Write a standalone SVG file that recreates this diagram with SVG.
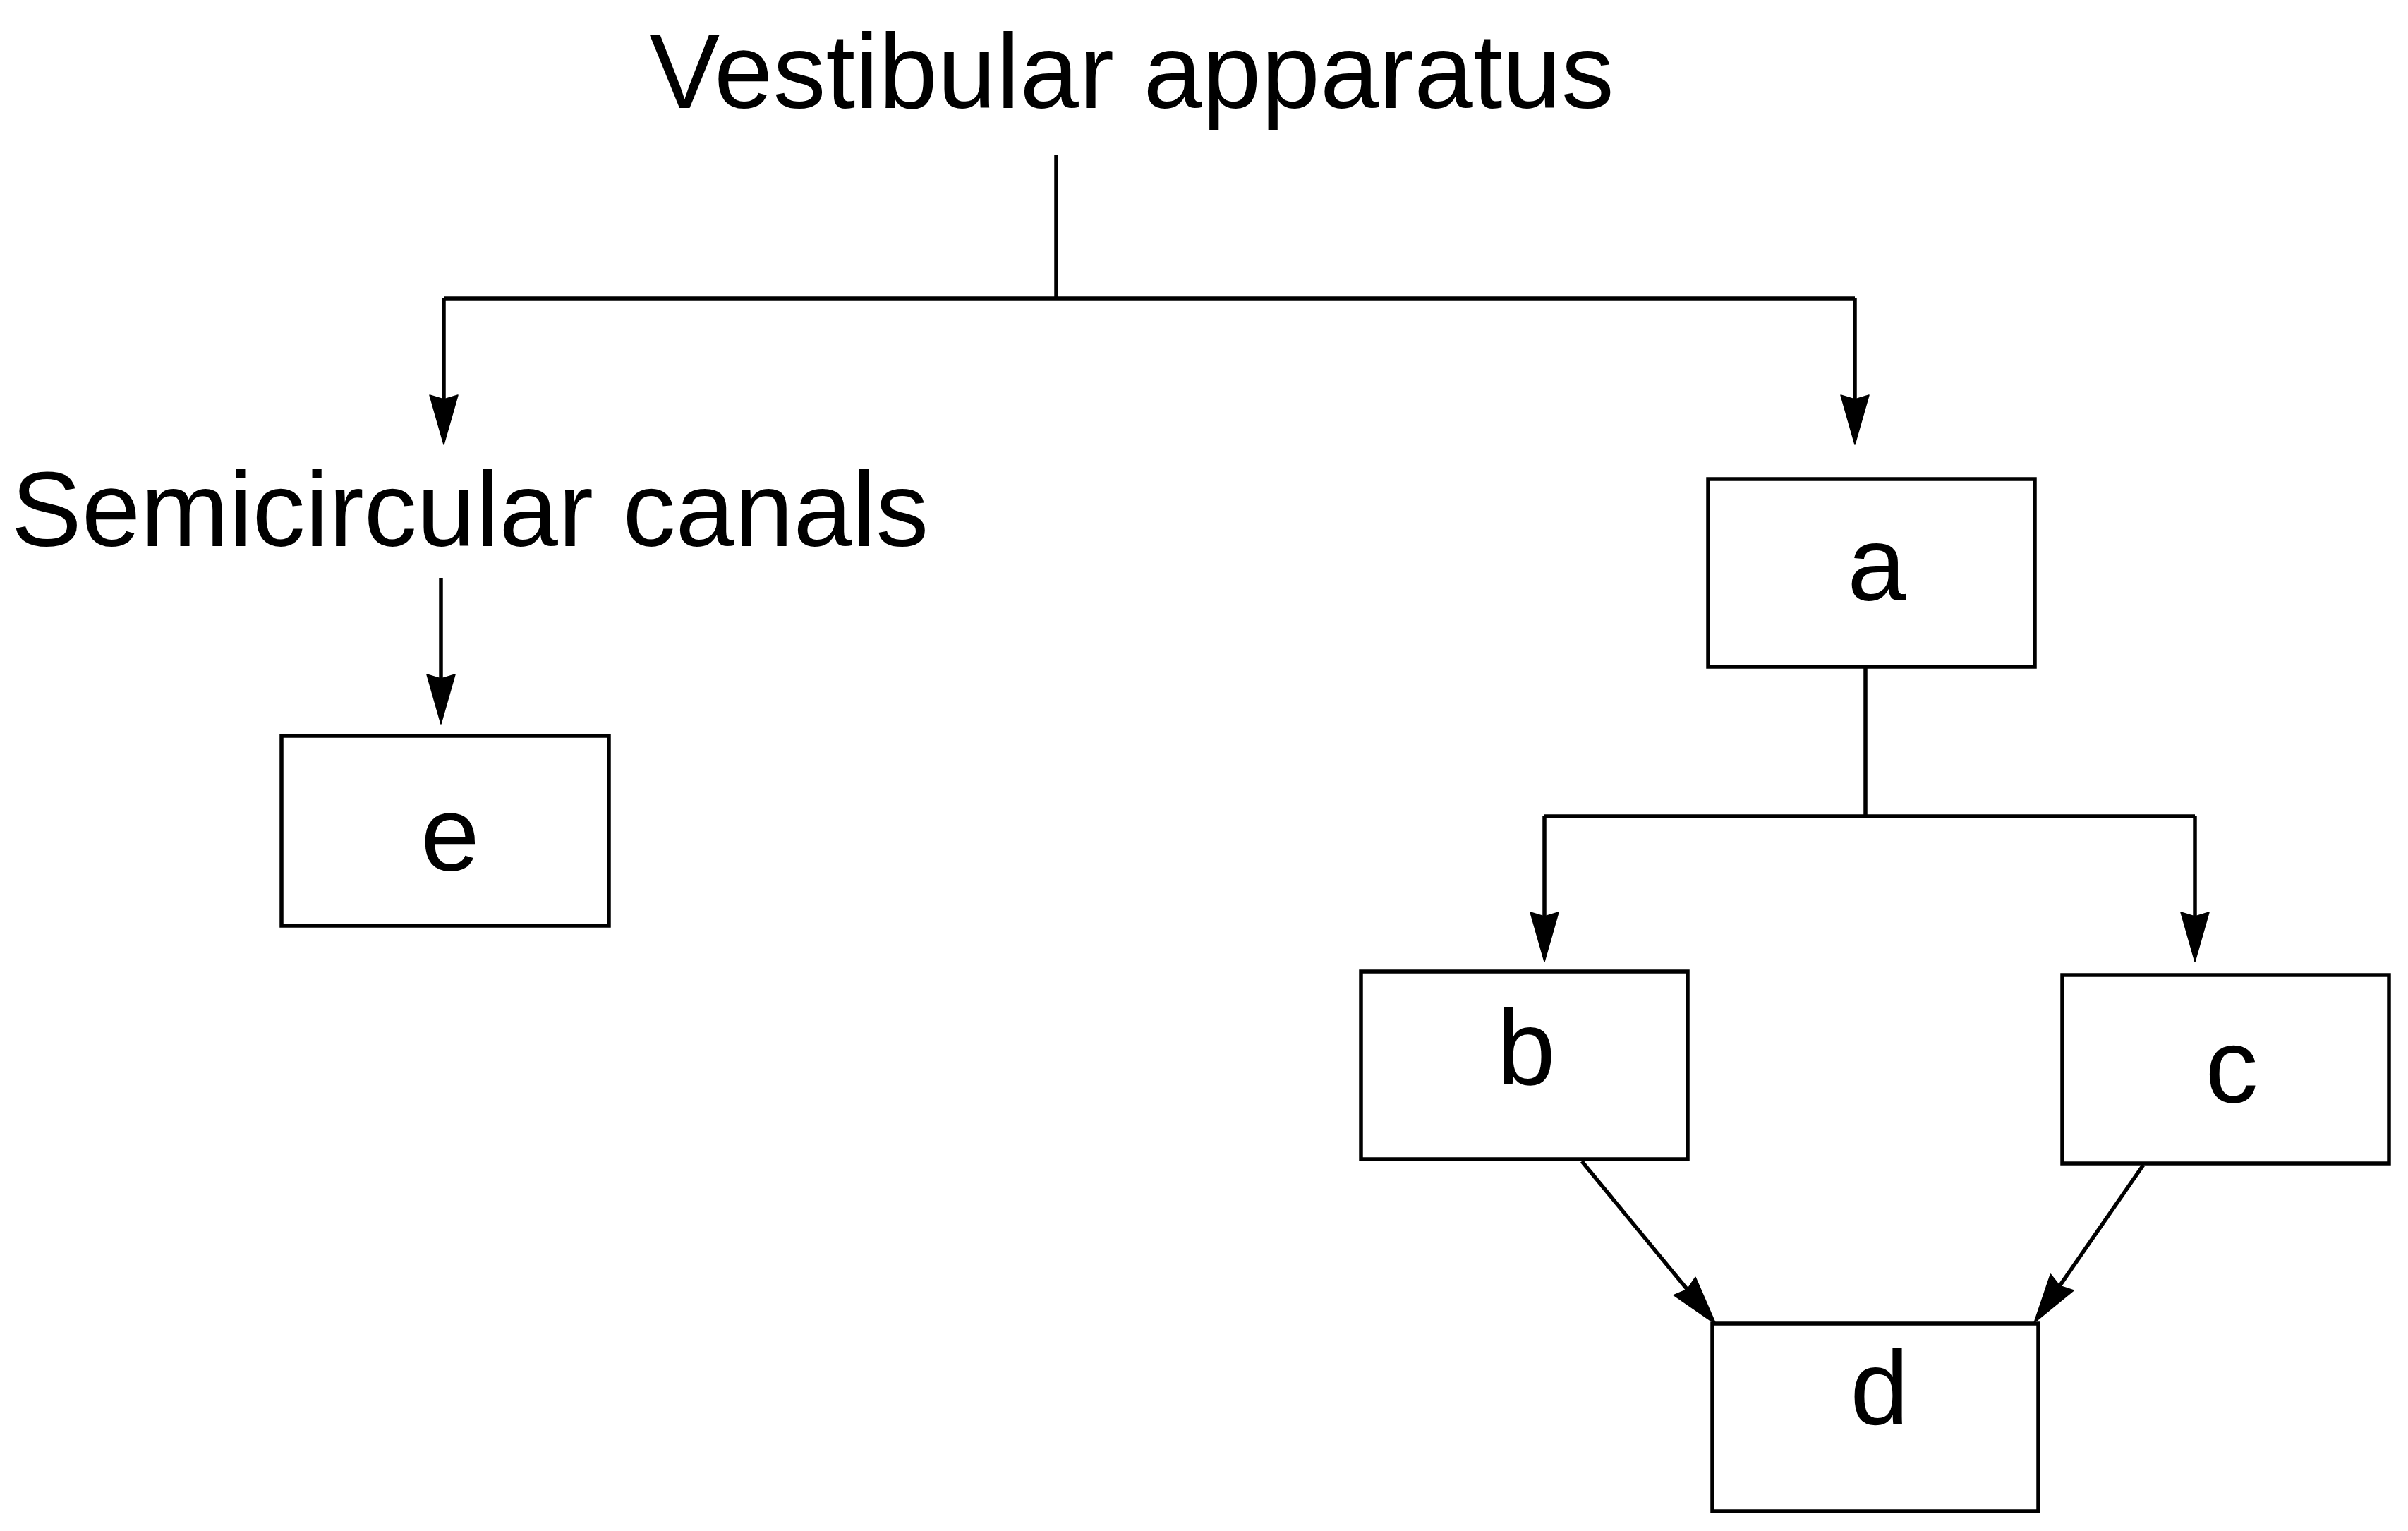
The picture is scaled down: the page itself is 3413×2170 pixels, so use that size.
<svg xmlns="http://www.w3.org/2000/svg" width="3413" height="2170" viewBox="0 0 3413 2170">
<style>
  .lbl { font-family: "Liberation Sans", Arial, sans-serif; font-size: 150px; fill: #000; text-anchor: middle; }
  .box { fill: #fff; stroke: #000; stroke-width: 5.5; }
  .con { fill: none; stroke: #000; stroke-width: 5.5; }
</style>
<defs>
  <marker id="arr" markerUnits="userSpaceOnUse" markerWidth="72" markerHeight="44" viewBox="0 -22 72 44" refX="6" refY="0" orient="auto" overflow="visible">
    <path d="M70,0 L0,-20 L6,0 L0,20 Z" fill="#000" stroke="#000" stroke-width="1.5" stroke-linejoin="round"/>
  </marker>
</defs>
<rect width="3413" height="2170" fill="#fff"/>

<g id="connectors">
  <path class="con" d="M1497,219 V423"/>
  <path class="con" d="M629,423 H2629"/>
  <path class="con" d="M629,423 V566" marker-end="url(#arr)"/>
  <path class="con" d="M2629,423 V566" marker-end="url(#arr)"/>
  <path class="con" d="M625,819 V962" marker-end="url(#arr)"/>
  <path class="con" d="M2644,945 V1157"/>
  <path class="con" d="M2189,1157 H3111"/>
  <path class="con" d="M2189,1157 V1299" marker-end="url(#arr)"/>
  <path class="con" d="M3111,1157 V1299" marker-end="url(#arr)"/>
  <path class="con" d="M2242,1646 L2391.4,1827.6" marker-end="url(#arr)"/>
  <path class="con" d="M3038,1651 L2919.4,1822.4" marker-end="url(#arr)"/>
</g>

<g id="node-vestibular">
  <text class="lbl" x="1604" y="153">Vestibular apparatus</text>
</g>
<g id="node-semicircular">
  <text class="lbl" x="666" y="774">Semicircular canals</text>
</g>
<g id="node-e">
  <rect class="box" x="399" y="1043" width="464" height="269"/>
  <text class="lbl" x="638" y="1234">e</text>
</g>
<g id="node-a">
  <rect class="box" x="2421" y="679" width="463" height="266"/>
  <text class="lbl" x="2660" y="851">a</text>
</g>
<g id="node-b">
  <rect class="box" x="1929" y="1377" width="463" height="266"/>
  <text class="lbl" x="2163" y="1537">b</text>
</g>
<g id="node-c">
  <rect class="box" x="2923" y="1382" width="463" height="267"/>
  <text class="lbl" x="3163" y="1563">c</text>
</g>
<g id="node-d">
  <rect class="box" x="2427" y="1876" width="462" height="266"/>
  <text class="lbl" x="2664" y="2019">d</text>
</g>
</svg>
